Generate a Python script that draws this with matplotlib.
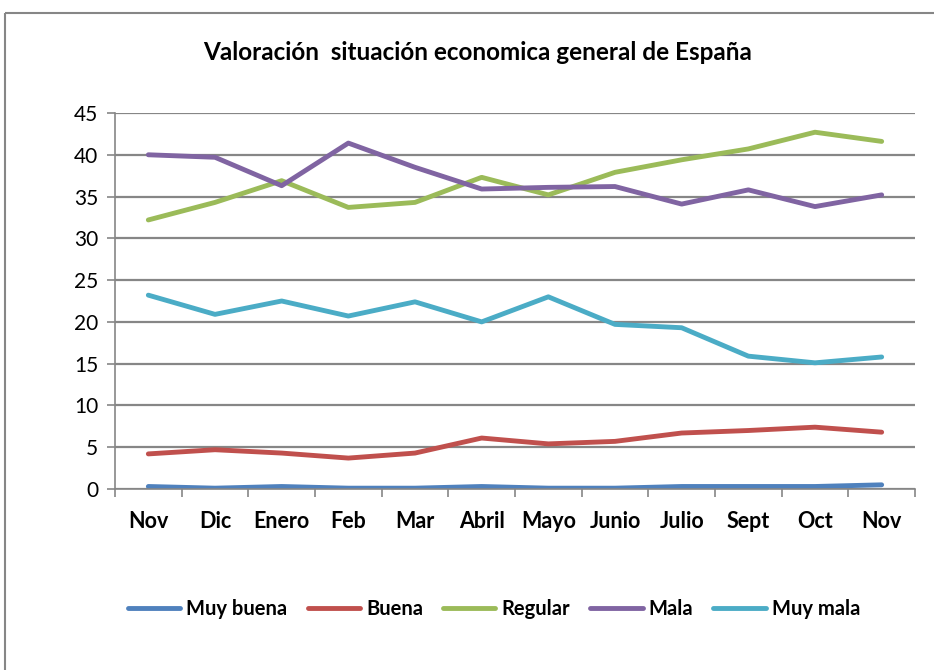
import matplotlib
matplotlib.use("Agg")
import matplotlib.pyplot as plt
from matplotlib.lines import Line2D

# Datos
meses = ["Nov", "Dic", "Enero", "Feb", "Mar", "Abril", "Mayo", "Junio",
         "Julio", "Sept", "Oct", "Nov"]
muy_buena = [0.3, 0.1, 0.3, 0.1, 0.1, 0.3, 0.1, 0.1, 0.3, 0.3, 0.3, 0.5]
buena = [4.2, 4.7, 4.3, 3.7, 4.3, 6.1, 5.4, 5.7, 6.7, 7.0, 7.4, 6.8]
regular = [32.2, 34.3, 36.9, 33.7, 34.3, 37.3, 35.2, 37.9, 39.4, 40.7, 42.7, 41.6]
mala = [40.0, 39.7, 36.3, 41.4, 38.5, 35.9, 36.1, 36.2, 34.1, 35.8, 33.8, 35.2]
muy_mala = [23.2, 20.9, 22.5, 20.7, 22.4, 20.0, 23.0, 19.7, 19.3, 15.9, 15.1, 15.8]

series = [
    ("Muy buena", muy_buena, "#4F81BD"),
    ("Buena", buena, "#C0504D"),
    ("Regular", regular, "#9BBB59"),
    ("Mala", mala, "#8064A2"),
    ("Muy mala", muy_mala, "#4BACC6"),
]

plt.rcParams["font.family"] = ["Lato", "DejaVu Sans"]
GRIS = "#868686"

fig = plt.figure(figsize=(9.34, 6.70), dpi=100)
fig.patch.set_facecolor("white")

# Borde del area del grafico (solo izquierda y arriba visibles)
y_borde = 1 - 13 / 670
x_borde = 5 / 934
fig.lines.append(Line2D([x_borde, x_borde], [0, y_borde], transform=fig.transFigure,
                        color=GRIS, linewidth=1.5, solid_capstyle="butt"))
fig.lines.append(Line2D([x_borde, 1.0], [y_borde, y_borde], transform=fig.transFigure,
                        color=GRIS, linewidth=1.5, solid_capstyle="butt"))

ax = fig.add_axes([115 / 934, 1 - 489 / 670, 800 / 934, 376 / 670])
x = list(range(len(meses)))

for nombre, valores, color in series:
    ax.plot(x, valores, color=color, linewidth=3.5, label=nombre,
            solid_capstyle="round", solid_joinstyle="round")

ax.set_xlim(-0.5, len(meses) - 0.5)
ax.set_ylim(0, 45)
ax.set_yticks(range(0, 46, 5))
ax.grid(axis="y", color=GRIS, linewidth=1.6)
ax.set_axisbelow(True)

ax.set_xticks(x)
ax.set_xticklabels(meses, fontsize=15.5, fontweight="bold")
ax.set_xticks([i - 0.5 for i in range(len(meses) + 1)], minor=True)
ax.tick_params(axis="x", which="major", length=0, pad=16)
ax.tick_params(axis="x", which="minor", length=6, color=GRIS, width=1.2,
               direction="out")
ax.tick_params(axis="y", length=6, color=GRIS, width=1.2, labelsize=15, pad=6)

for lado in ["top", "right"]:
    ax.spines[lado].set_visible(False)
ax.spines["left"].set_color(GRIS)
ax.spines["bottom"].set_color(GRIS)
ax.spines["left"].set_linewidth(1.2)
ax.spines["bottom"].set_linewidth(1.2)

fig.text(478 / 934, 1 - 52 / 670, "Valoración  situación economica general de España",
         ha="center", va="center", fontsize=17.5, fontweight="bold")

fig.legend(loc="center", bbox_to_anchor=(494 / 934, 1 - 609 / 670), ncol=5,
           frameon=False, handlelength=2.6, handletextpad=0.3,
           columnspacing=1.0, prop={"weight": "bold", "size": 14.5})

fig.savefig("out.png", dpi=100)
